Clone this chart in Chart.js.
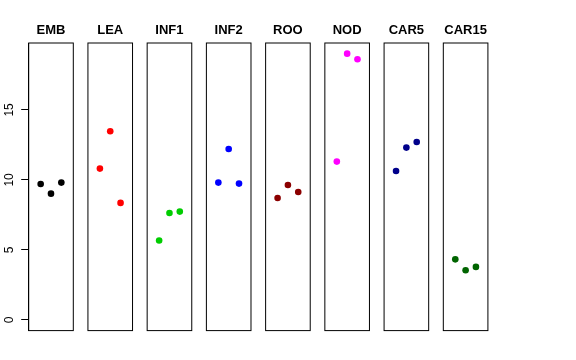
<!DOCTYPE html>
<html>
<head>
<meta charset="utf-8">
<script src="https://cdn.jsdelivr.net/npm/chart.js@4/dist/chart.umd.min.js"></script>
<style>
  html, body { margin: 0; padding: 0; background: #fff; }
  #wrap { position: relative; width: 576px; height: 360px; overflow: hidden; }
  #wrap div { position: absolute; top: 0; height: 360px; }
</style>
</head>
<body>
<div id="wrap"></div>
<script>
// data
const tissues = ['EMB', 'LEA', 'INF1', 'INF2', 'ROO', 'NOD', 'CAR5', 'CAR15'];
const reps = [1, 2, 3];
const embVals = [9.71, 9.02, 9.81];
const leaVals = [10.81, 13.48, 8.36];
const inf1Vals = [5.67, 7.64, 7.74];
const inf2Vals = [9.81, 12.21, 9.74];
const rooVals = [8.71, 9.64, 9.14];
const nodVals = [11.31, 19.02, 18.62];
const car5Vals = [10.64, 12.31, 12.71];
const car15Vals = [4.33, 3.55, 3.79];
const yTicks = [0, 5, 10, 15];

const allVals = [embVals, leaVals, inf1Vals, inf2Vals, rooVals, nodVals, car5Vals, car15Vals];
const colors = ['#000000', '#FF0000', '#00CD00', '#0000FF', '#8B0000', '#FF00FF', '#00008B', '#006400'];

// panel geometry (px)
const panelLeft0 = 28.7, panelStep = 59.23, panelW = 44.6;
const plotTop = 43, plotBottom = 330.6;
const FONT = '"Liberation Sans", Arial, sans-serif';

const boxPlugin = {
  id: 'box',
  beforeDatasetsDraw(chart) {
    const ca = chart.chartArea, ctx = chart.ctx;
    ctx.save();
    ctx.strokeStyle = '#000';
    ctx.lineWidth = 1;
    ctx.strokeRect(ca.left, ca.top, ca.right - ca.left, ca.bottom - ca.top);
    ctx.restore();
  }
};

// R style vertical tick labels on the first panel
const yLabelPlugin = {
  id: 'ylabels',
  afterDraw(chart) {
    const s = chart.scales.y, ctx = chart.ctx;
    ctx.save();
    ctx.font = '12px ' + FONT;
    ctx.fillStyle = '#000';
    ctx.textAlign = 'center';
    ctx.textBaseline = 'alphabetic';
    s.ticks.forEach(t => {
      const y = s.getPixelForValue(t.value);
      ctx.save();
      ctx.translate(13, y);
      ctx.rotate(-Math.PI / 2);
      ctx.fillText(String(t.value), 0, 0);
      ctx.restore();
    });
    ctx.restore();
  }
};

const wrap = document.getElementById('wrap');

tissues.forEach((name, i) => {
  const c = panelLeft0 + panelStep * i + panelW / 2;
  let divLeft, W, padLeft, padRight;
  if (i === 0) {
    divLeft = 0; W = Math.round(c * 2);
    padLeft = 0; padRight = W - (panelLeft0 + panelW);
  } else {
    W = 60; divLeft = Math.floor(c - W / 2);
    padLeft = c - panelW / 2 - divLeft;
    padRight = divLeft + W - (c + panelW / 2);
  }
  const div = document.createElement('div');
  div.style.left = divLeft + 'px';
  div.style.width = W + 'px';
  const canvas = document.createElement('canvas');
  canvas.width = W; canvas.height = 360;
  canvas.style.width = W + 'px'; canvas.style.height = '360px';
  div.appendChild(canvas);
  wrap.appendChild(div);

  const titleSize = 13;
  const titleTop = 23;

  const yScale = {
    type: 'linear',
    display: i === 0,
    min: -0.76, max: 19.78,
    afterBuildTicks: s => { s.ticks = yTicks.map(v => ({ value: v })); },
    ticks: { display: false },
    grid: { drawOnChartArea: false, tickLength: 7.5, color: '#000', lineWidth: 1 },
    border: { display: true, color: '#000', width: 1 }
  };
  if (i === 0) yScale.afterFit = s => { s.width = panelLeft0; };

  new Chart(canvas, {
    type: 'scatter',
    data: {
      datasets: [{
        data: reps.map((x, k) => ({ x: x, y: allVals[i][k] })),
        backgroundColor: colors[i],
        borderWidth: 0,
        pointRadius: 3.3,
        pointHoverRadius: 3.3
      }]
    },
    options: {
      responsive: false,
      animation: false,
      devicePixelRatio: 1,
      layout: { padding: { left: padLeft, right: padRight, top: titleTop, bottom: 360 - plotBottom } },
      plugins: {
        legend: { display: false },
        tooltip: { enabled: false },
        title: {
          display: true,
          text: name,
          fullSize: false,
          color: '#000',
          font: { family: FONT, size: titleSize, weight: 'bold', lineHeight: 1.2 },
          padding: { top: 0, bottom: plotTop - titleTop - titleSize * 1.2 }
        }
      },
      scales: {
        x: { type: 'linear', display: false, min: -0.16, max: 4.16 },
        y: yScale
      }
    },
    plugins: i === 0 ? [boxPlugin, yLabelPlugin] : [boxPlugin]
  });
});
</script>
</body>
</html>
